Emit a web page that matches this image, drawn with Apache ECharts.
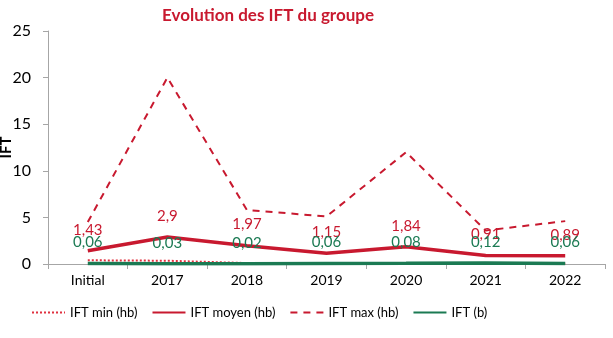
<!DOCTYPE html>
<html><head><meta charset="utf-8">
<script src="https://cdn.jsdelivr.net/npm/echarts@6/dist/echarts.min.js"></script>
<style>html,body{margin:0;padding:0;background:#fff}#c{width:613px;height:338px}</style>
</head><body><div id="c"></div>
<script>
const categories = ['Initial','2017','2018','2019','2020','2021','2022'];
const iftMin = [0.4, 0.35, 0.1, 0.02, 0.02, 0.02, 0.02];
const iftMoyen = [1.43, 2.9, 1.97, 1.15, 1.84, 0.91, 0.89];
const iftMax = [4.5, 20, 5.8, 5.1, 12, 3.6, 4.6];
const iftB = [0.06, 0.03, 0.02, 0.06, 0.08, 0.12, 0.06];
const RED = '#C8192F', GREEN = '#1B7A53';
const FONT = 'Lato';
const fmt = p => String(p.value).replace('.', ',');
const labelSeries = (name, data, color, z) => ({
  name, type: 'line', data, symbol: 'circle', symbolSize: 1, z,
  lineStyle: { width: 0, opacity: 0 }, itemStyle: { color: 'rgba(0,0,0,0)' },
  label: { show: true, position: 'top', distance: 13, color, fontSize: 15, fontFamily: FONT, formatter: fmt }
});
const chart = echarts.init(document.getElementById('c'));
chart.setOption({
  animation: false,
  title: { text: 'Evolution des IFT du groupe', left: 157, top: 2,
    textStyle: { color: RED, fontSize: 17, fontWeight: 'bold', fontFamily: FONT } },
  grid: { left: 48, right: 8, top: 31, bottom: 74, outerBoundsMode: 'none', containLabel: false },
  legend: { bottom: 14, left: 26, itemWidth: 33, itemHeight: 12, itemGap: 14,
    itemStyle: { opacity: 0 },
    textStyle: { fontSize: 13, fontFamily: FONT, color: '#000' },
    data: ['IFT min (hb)','IFT moyen (hb)','IFT max (hb)','IFT (b)'] },
  xAxis: { type: 'category', data: categories, boundaryGap: true,
    axisLine: { lineStyle: { color: '#A6A6A6' } },
    axisTick: { show: true, length: 5, lineStyle: { color: '#A6A6A6' } },
    axisLabel: { color: '#000', fontSize: 14, fontFamily: FONT, margin: 9 } },
  yAxis: { type: 'value', min: 0, max: 25, interval: 5, name: 'IFT', nameLocation: 'middle', nameGap: 34,
    nameMoveOverlap: false,
    nameTextStyle: { fontWeight: 'bold', fontSize: 15, color: '#000', fontFamily: FONT },
    axisLine: { show: true, lineStyle: { color: '#A6A6A6' } },
    axisTick: { show: true, length: 5, lineStyle: { color: '#A6A6A6' } },
    splitLine: { show: false },
    axisLabel: { color: '#000', fontSize: 16, fontFamily: FONT, margin: 17 } },
  series: [
    { name: 'IFT min (hb)', type: 'line', data: iftMin, symbol: 'none', z: 2,
      lineStyle: { color: '#E0303F', width: 2, type: [2, 2] }, itemStyle: { color: '#E0303F' } },
    { name: 'IFT moyen (hb)', type: 'line', data: iftMoyen, symbol: 'none', z: 3,
      lineStyle: { color: RED, width: 3.5 }, itemStyle: { color: RED } },
    { name: 'IFT max (hb)', type: 'line', data: iftMax, symbol: 'none', z: 2,
      lineStyle: { color: RED, width: 2, type: [7, 6] }, itemStyle: { color: RED } },
    { name: 'IFT (b)', type: 'line', data: iftB, symbol: 'none', z: 4,
      lineStyle: { color: GREEN, width: 3.5 }, itemStyle: { color: GREEN } },
    labelSeries('lbl-moyen', iftMoyen, RED, 5),
    labelSeries('lbl-b', iftB, GREEN, 6)
  ]
});
</script></body></html>
